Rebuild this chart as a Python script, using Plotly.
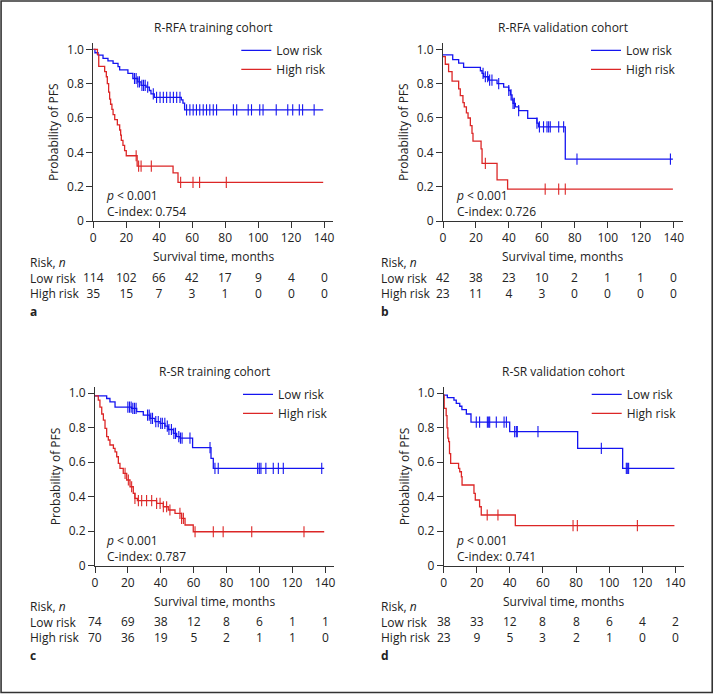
import numpy as np
import plotly.graph_objects as go

# ---- data ----
months = [0, 20, 40, 60, 80, 100, 120, 140]
end_time = 139.5

# a: R-RFA training cohort
a_low_t = [0, 1, 2.9, 5.9, 8.9, 12, 15, 16, 21, 24, 27, 29, 32, 34, 35, 37, 53.4, 54.4, 55.4]
a_low_s = [1.0, 0.98, 0.966, 0.947, 0.933, 0.918, 0.899, 0.88, 0.86, 0.83, 0.81, 0.79, 0.78, 0.76, 0.74, 0.72, 0.705, 0.686, 0.647]
a_low_cens = [25, 26, 27, 28, 29.5, 30.5, 31.5, 33, 36.4, 38.4, 40.5, 42.5, 44.5, 46.6, 48.6, 50.6, 52.6,
              56.6, 58.6, 60.6, 62.6, 64.6, 66.7, 68.7, 70.7, 72.8, 74.8, 85, 87, 94, 96, 101, 103, 111,
              118, 121, 125, 127, 134]
a_high_t = [0, 2.5, 3.3, 6.9, 7.9, 8.5, 9.3, 9.9, 10.5, 11.3, 12, 13, 14.6, 16, 16.6, 17, 18, 19, 20, 26.6, 48.4, 51.4]
a_high_s = [1.0, 0.97, 0.90, 0.87, 0.84, 0.80, 0.75, 0.71, 0.68, 0.65, 0.62, 0.59, 0.56, 0.53, 0.50, 0.47, 0.44, 0.41, 0.38, 0.32, 0.28, 0.225]
a_high_cens = [26, 27.5, 29, 35.2, 53, 60.5, 64.5, 80.7]
a_low_n = [114, 102, 66, 42, 17, 9, 4, 0]
a_high_n = [35, 15, 7, 3, 1, 0, 0, 0]

# b: R-RFA validation cohort
b_low_t = [0, 5.9, 9.5, 12.5, 22.7, 23.7, 24.7, 27.7, 32.8, 36.8, 39.9, 40.9, 41.9, 42.5, 43.9, 45.9, 51.4, 57, 58, 74.2]
b_low_s = [0.967, 0.94, 0.92, 0.895, 0.875, 0.86, 0.84, 0.82, 0.80, 0.78, 0.76, 0.735, 0.705, 0.685, 0.665, 0.643, 0.598, 0.57, 0.548, 0.36]
b_low_cens = [24.3, 25.7, 27.1, 28.3, 29.7, 33.8, 39.9, 41.3, 42.5, 43.3, 45.9, 57, 58.5, 61, 63.1, 64.1, 65.1, 70.2, 73.2, 81.3, 138]
b_high_t = [0, 1.4, 3.4, 5.5, 9.5, 10.5, 12.1, 12.9, 14.2, 15.2, 16.6, 17.6, 18.2, 23.1, 23.7, 32.8, 39.2]
b_high_s = [0.957, 0.913, 0.87, 0.815, 0.77, 0.73, 0.69, 0.665, 0.63, 0.6, 0.555, 0.51, 0.465, 0.42, 0.336, 0.24, 0.186]
b_high_cens = [25.7, 62, 70.2, 74.2]
b_low_n = [42, 38, 23, 10, 2, 1, 1, 0]
b_high_n = [23, 11, 4, 3, 0, 0, 0, 0]

# c: R-SR training cohort
c_low_t = [0, 7.1, 9.1, 12.2, 22.3, 25.4, 29.4, 33.5, 36.5, 39.6, 42.6, 44.6, 47.7, 49.7, 51.7, 59.4, 70.6, 72]
c_low_s = [0.985, 0.97, 0.95, 0.92, 0.913, 0.894, 0.874, 0.855, 0.836, 0.826, 0.81, 0.79, 0.768, 0.749, 0.74, 0.685, 0.623, 0.565]
c_low_cens = [20, 21, 22, 23, 24, 25, 32, 33, 34, 35, 37, 38.5, 40, 41, 42.5, 44, 45, 46.5, 48, 49, 51, 52, 53,
              57.8, 70, 73, 75, 99, 100, 101, 104, 108.5, 111.6, 114.6, 138]
c_high_t = [0, 2, 3, 4.1, 5.1, 6.1, 7.1, 8.1, 9.1, 11.2, 12.2, 13.2, 14.2, 15.2, 17.2, 19.3, 21.3, 23.3, 24.3, 25.8,
            37.5, 41.6, 44.6, 48.7, 52.7, 54.8, 59.8]
c_high_s = [0.985, 0.96, 0.92, 0.88, 0.845, 0.797, 0.749, 0.729, 0.70, 0.68, 0.66, 0.632, 0.594, 0.565, 0.536, 0.497,
            0.458, 0.42, 0.39, 0.377, 0.362, 0.342, 0.323, 0.304, 0.275, 0.236, 0.197]
c_high_cens = [18.3, 20.3, 22.3, 24.3, 26.4, 28.4, 31.4, 34.5, 37.5, 39.6, 41.6, 43.6, 45.6, 51.7, 52.7, 53.8,
               60.9, 72, 78, 95.4, 127.2]
c_low_n = [74, 69, 38, 12, 8, 6, 1, 1]
c_high_n = [70, 36, 19, 5, 2, 1, 1, 0]

# d: R-SR validation cohort
d_low_t = [0, 2.2, 6.2, 7.6, 9.7, 11, 13.7, 16.5, 39.9, 81, 108.2]
d_low_s = [0.99, 0.975, 0.961, 0.942, 0.925, 0.905, 0.88, 0.833, 0.778, 0.68, 0.565]
d_low_cens = [19.7, 21.7, 26.4, 27.2, 27.8, 31.8, 36.5, 37.9, 42.9, 43.9, 44.5, 57, 95.3, 110.4, 111, 111.8]
d_high_t = [0, 0.3, 1.5, 2, 2.5, 3, 3.5, 4.2, 9, 9.7, 10.7, 11.1, 18.3, 19.1, 21.7, 22.7, 43.3]
d_high_s = [0.99, 0.913, 0.87, 0.80, 0.74, 0.72, 0.65, 0.593, 0.565, 0.545, 0.516, 0.468, 0.42, 0.381, 0.342, 0.294, 0.232]
d_high_cens = [26.3, 32.8, 78.2, 80.8, 117.1]
d_low_n = [38, 33, 12, 8, 8, 6, 4, 2]
d_high_n = [23, 9, 5, 3, 2, 1, 0, 0]

titles = ["R-RFA training cohort", "R-RFA validation cohort", "R-SR training cohort", "R-SR validation cohort"]
cindex = ["0.754", "0.726", "0.787", "0.741"]
letters = ["a", "b", "c", "d"]

W, H = 714, 694
BLUE = "#1414f0"
RED = "#dc2626"
TXT = "#222222"
FONT = "Open Sans"

# pixel geometry of each panel: x of 0 months, px per month, y of 0, y of 1.0
geom = [
    dict(x0=93.3, kx=1.648, y0=221.0, y1=49.3, left=27.7, p_x=104.3),
    dict(x0=443.0, kx=1.648, y0=221.0, y1=49.3, left=378.7, p_x=453.7),
    dict(x0=95.0, kx=1.643, y0=565.7, y1=393.3, left=27.7, p_x=104.3),
    dict(x0=443.7, kx=1.654, y0=565.7, y1=393.3, left=378.7, p_x=453.7),
]
XMAX, YMAX = 145.4, 1.035

panels = [
    (a_low_t, a_low_s, a_low_cens, a_high_t, a_high_s, a_high_cens, a_low_n, a_high_n),
    (b_low_t, b_low_s, b_low_cens, b_high_t, b_high_s, b_high_cens, b_low_n, b_high_n),
    (c_low_t, c_low_s, c_low_cens, c_high_t, c_high_s, c_high_cens, c_low_n, c_high_n),
    (d_low_t, d_low_s, d_low_cens, d_high_t, d_high_s, d_high_cens, d_low_n, d_high_n),
]


def px_x(v):
    return v / W


def px_y(v):
    return 1 - v / H


def at(t, s, c):
    idx = np.searchsorted(np.array(t), np.array(c), side="right") - 1
    return np.array(s)[idx]


fig = go.Figure()
annotations = []
layout = {}

for i, (data, g) in enumerate(zip(panels, geom)):
    lt, ls, lc, ht, hs, hc, ln, hn = data
    sfx = "" if i == 0 else str(i + 1)
    xa, ya = "x" + sfx, "y" + sfx
    leg = "legend" + sfx

    for t, s, cens, name, col in [(lt, ls, lc, "Low risk", BLUE), (ht, hs, hc, "High risk", RED)]:
        fig.add_trace(go.Scatter(
            x=list(t) + [end_time], y=list(s) + [s[-1]], mode="lines", line_shape="hv",
            line=dict(color=col, width=1.3), name=name, xaxis=xa, yaxis=ya, legend=leg,
        ))
        fig.add_trace(go.Scatter(
            x=cens, y=at(t, s, cens), mode="markers", showlegend=False,
            marker=dict(symbol="line-ns-open", size=8, color=col, line=dict(color=col, width=1.1)),
            xaxis=xa, yaxis=ya,
        ))

    xend = g["x0"] + XMAX * g["kx"]
    ky = g["y0"] - g["y1"]
    ytop = g["y0"] - YMAX * ky
    layout["xaxis" + sfx] = dict(
        domain=[px_x(g["x0"]), px_x(xend)], range=[0, XMAX], anchor=ya, automargin=False,
        tickvals=months, ticks="outside", ticklen=6, tickwidth=1, tickcolor="#333",
        showline=True, linecolor="#333", linewidth=1, showgrid=False, zeroline=False,
        tickfont=dict(size=12, color=TXT, family=FONT),
    )
    layout["yaxis" + sfx] = dict(
        domain=[px_y(g["y0"]), px_y(ytop)], range=[0, YMAX], anchor=xa, automargin=False,
        tickvals=[0, 0.2, 0.4, 0.6, 0.8, 1.0], ticktext=["0", "0.2", "0.4", "0.6", "0.8", "1.0"],
        ticks="outside", ticklen=6, tickwidth=1, tickcolor="#333",
        showline=True, linecolor="#333", linewidth=1, showgrid=False, zeroline=False,
        tickfont=dict(size=12, color=TXT, family=FONT),
        title=dict(text="Probability of PFS", font=dict(size=12, color=TXT, family=FONT), standoff=5),
    )
    layout[leg] = dict(
        x=px_x(g["x0"] + 143), y=px_y(g["y1"] - 13.5), xanchor="left", yanchor="top",
        bgcolor="rgba(0,0,0,0)", borderwidth=0, itemwidth=30,
        font=dict(size=12, color=TXT, family=FONT),
    )

    cx = px_x((g["x0"] + xend) / 2)
    annotations.append(dict(text=titles[i], x=cx, y=px_y(g["y1"] - 21.5), xref="paper", yref="paper",
                            showarrow=False, xanchor="center", yanchor="middle"))
    annotations.append(dict(text="Survival time, months", x=cx, y=px_y(g["y0"] + 36), xref="paper", yref="paper",
                            showarrow=False, xanchor="center", yanchor="middle"))
    annotations.append(dict(text="<i>p</i> &lt; 0.001<br>C-index: " + cindex[i], align="left",
                            x=px_x(g["p_x"]), y=px_y(g["y0"] - 17.5),
                            xref="paper", yref="paper", showarrow=False, xanchor="left", yanchor="middle"))

    # risk table
    annotations.append(dict(text="Risk, <i>n</i><br>Low risk<br>High risk", align="left",
                            x=px_x(g["left"]), y=px_y(g["y0"] + 56.5),
                            xref="paper", yref="paper", showarrow=False, xanchor="left", yanchor="middle"))
    for m, n_low, n_high in zip(months, ln, hn):
        annotations.append(dict(text=f"{n_low}<br>{n_high}", x=m, y=px_y(g["y0"] + 64), xref=xa, yref="paper",
                                showarrow=False, xanchor="center", yanchor="middle"))
    annotations.append(dict(text="<b>" + letters[i] + "</b>", x=px_x(g["left"]), y=px_y(g["y0"] + 90),
                            xref="paper", yref="paper", showarrow=False, xanchor="left", yanchor="middle"))

fig.update_layout(
    width=W, height=H, margin=dict(l=0, r=0, t=0, b=0, autoexpand=False),
    paper_bgcolor="white", plot_bgcolor="white",
    font=dict(family=FONT, size=12, color=TXT),
    annotations=annotations,
    shapes=[dict(type="rect", xref="paper", yref="paper", x0=0.0015, y0=0.0022, x1=0.9975, y1=0.9985,
                 line=dict(color="#333", width=1.6))],
    **layout,
)
for a in fig.layout.annotations:
    a.font = dict(size=12, color=TXT, family=FONT)

fig.write_html("out.html", config={"displayModeBar": False},
               post_script="document.body.style.margin='0';document.body.style.overflow='hidden';")
